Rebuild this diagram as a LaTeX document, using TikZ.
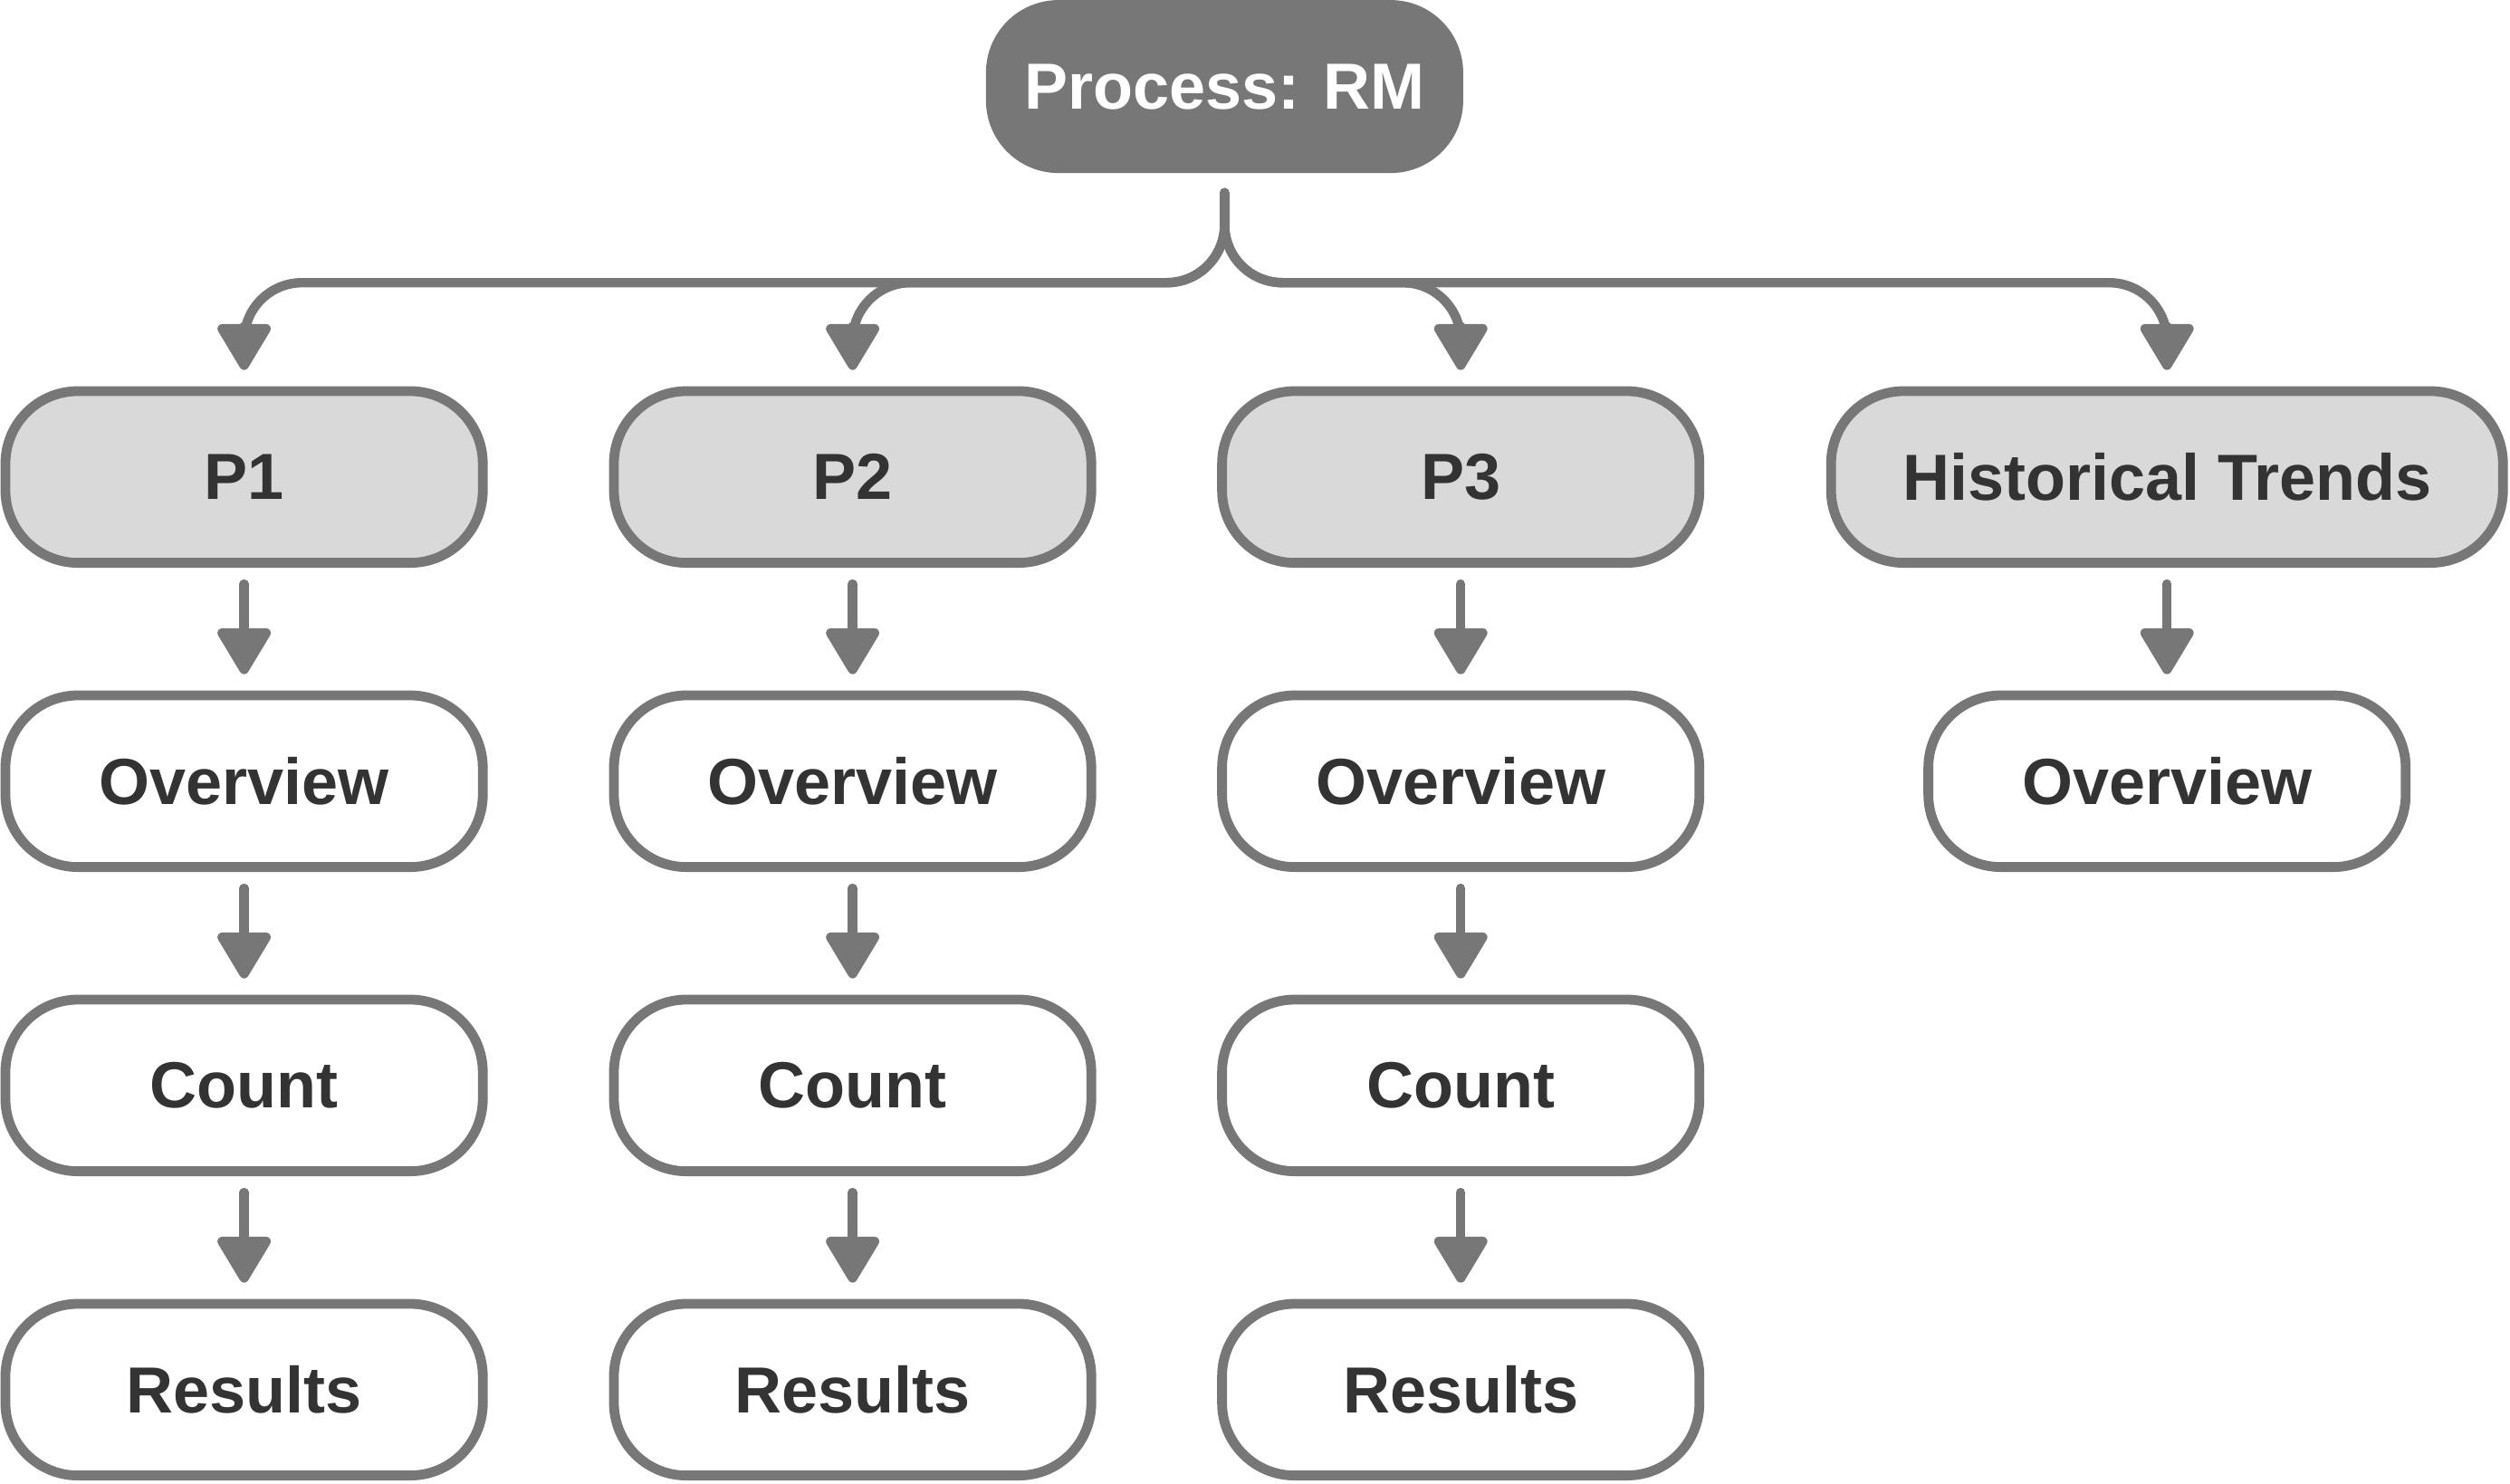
\documentclass[tikz,border=0pt]{standalone}
\usepackage{fontspec}
\setmainfont{Liberation Sans}
\usetikzlibrary{arrows.meta}
\definecolor{edgegray}{HTML}{777777}
\definecolor{lightfill}{HTML}{D9D9D9}
\definecolor{darktext}{HTML}{333333}
\begin{document}
\begin{tikzpicture}[
  box/.style={draw=edgegray, line width=2.7pt, rounded corners=20pt, minimum width=131.8pt, minimum height=47.4pt, inner sep=0pt, text=darktext, font=\fontsize{18pt}{20pt}\selectfont\bfseries},
  greybox/.style={box, fill=lightfill},
  plainbox/.style={box, fill=white},
  rootbox/.style={fill=edgegray, draw=none, rounded corners=20pt, minimum width=131.75pt, minimum height=47.75pt, inner sep=0pt, text=white, font=\fontsize{18pt}{20pt}\selectfont\bfseries},
  conn/.style={draw=edgegray, line width=2.6pt, line cap=round, -{Triangle[width=16pt,length=14pt,round]}, rounded corners=16pt},
]
\useasboundingbox (0,0) rectangle (693pt,-409.5pt);

\node[rootbox] (root) at (338.1pt,-23.9pt) {Process: RM};

\node[greybox] (p1) at (67.4pt,-131.7pt) {P1};
\node[greybox] (p2) at (235.4pt,-131.7pt) {P2};
\node[greybox] (p3) at (403.3pt,-131.7pt) {P3};
\node[greybox, minimum width=185.5pt] (ht) at (598.3pt,-131.7pt) {Historical Trends};

\node[plainbox] (o1) at (67.4pt,-215.7pt) {Overview};
\node[plainbox] (o2) at (235.4pt,-215.7pt) {Overview};
\node[plainbox] (o3) at (403.3pt,-215.7pt) {Overview};
\node[plainbox] (o4) at (598.3pt,-215.7pt) {Overview};

\node[plainbox] (c1) at (67.4pt,-299.7pt) {Count};
\node[plainbox] (c2) at (235.4pt,-299.7pt) {Count};
\node[plainbox] (c3) at (403.3pt,-299.7pt) {Count};

\node[plainbox] (r1) at (67.4pt,-383.7pt) {Results};
\node[plainbox] (r2) at (235.4pt,-383.7pt) {Results};
\node[plainbox] (r3) at (403.3pt,-383.7pt) {Results};

\coordinate (stem) at ([yshift=-5.25pt]root.south);
\foreach \n in {p1,p2,p3,ht}{
  \draw[conn] (stem) |- ([yshift=28.6pt]\n.north) -- ([yshift=4.5pt]\n.north);
}

\foreach \a/\b in {p1/o1,p2/o2,p3/o3,ht/o4,o1/c1,o2/c2,o3/c3,c1/r1,c2/r2,c3/r3}{
  \draw[conn] ([yshift=-4.5pt]\a.south) -- ([yshift=4.5pt]\b.north);
}
\end{tikzpicture}
\end{document}
